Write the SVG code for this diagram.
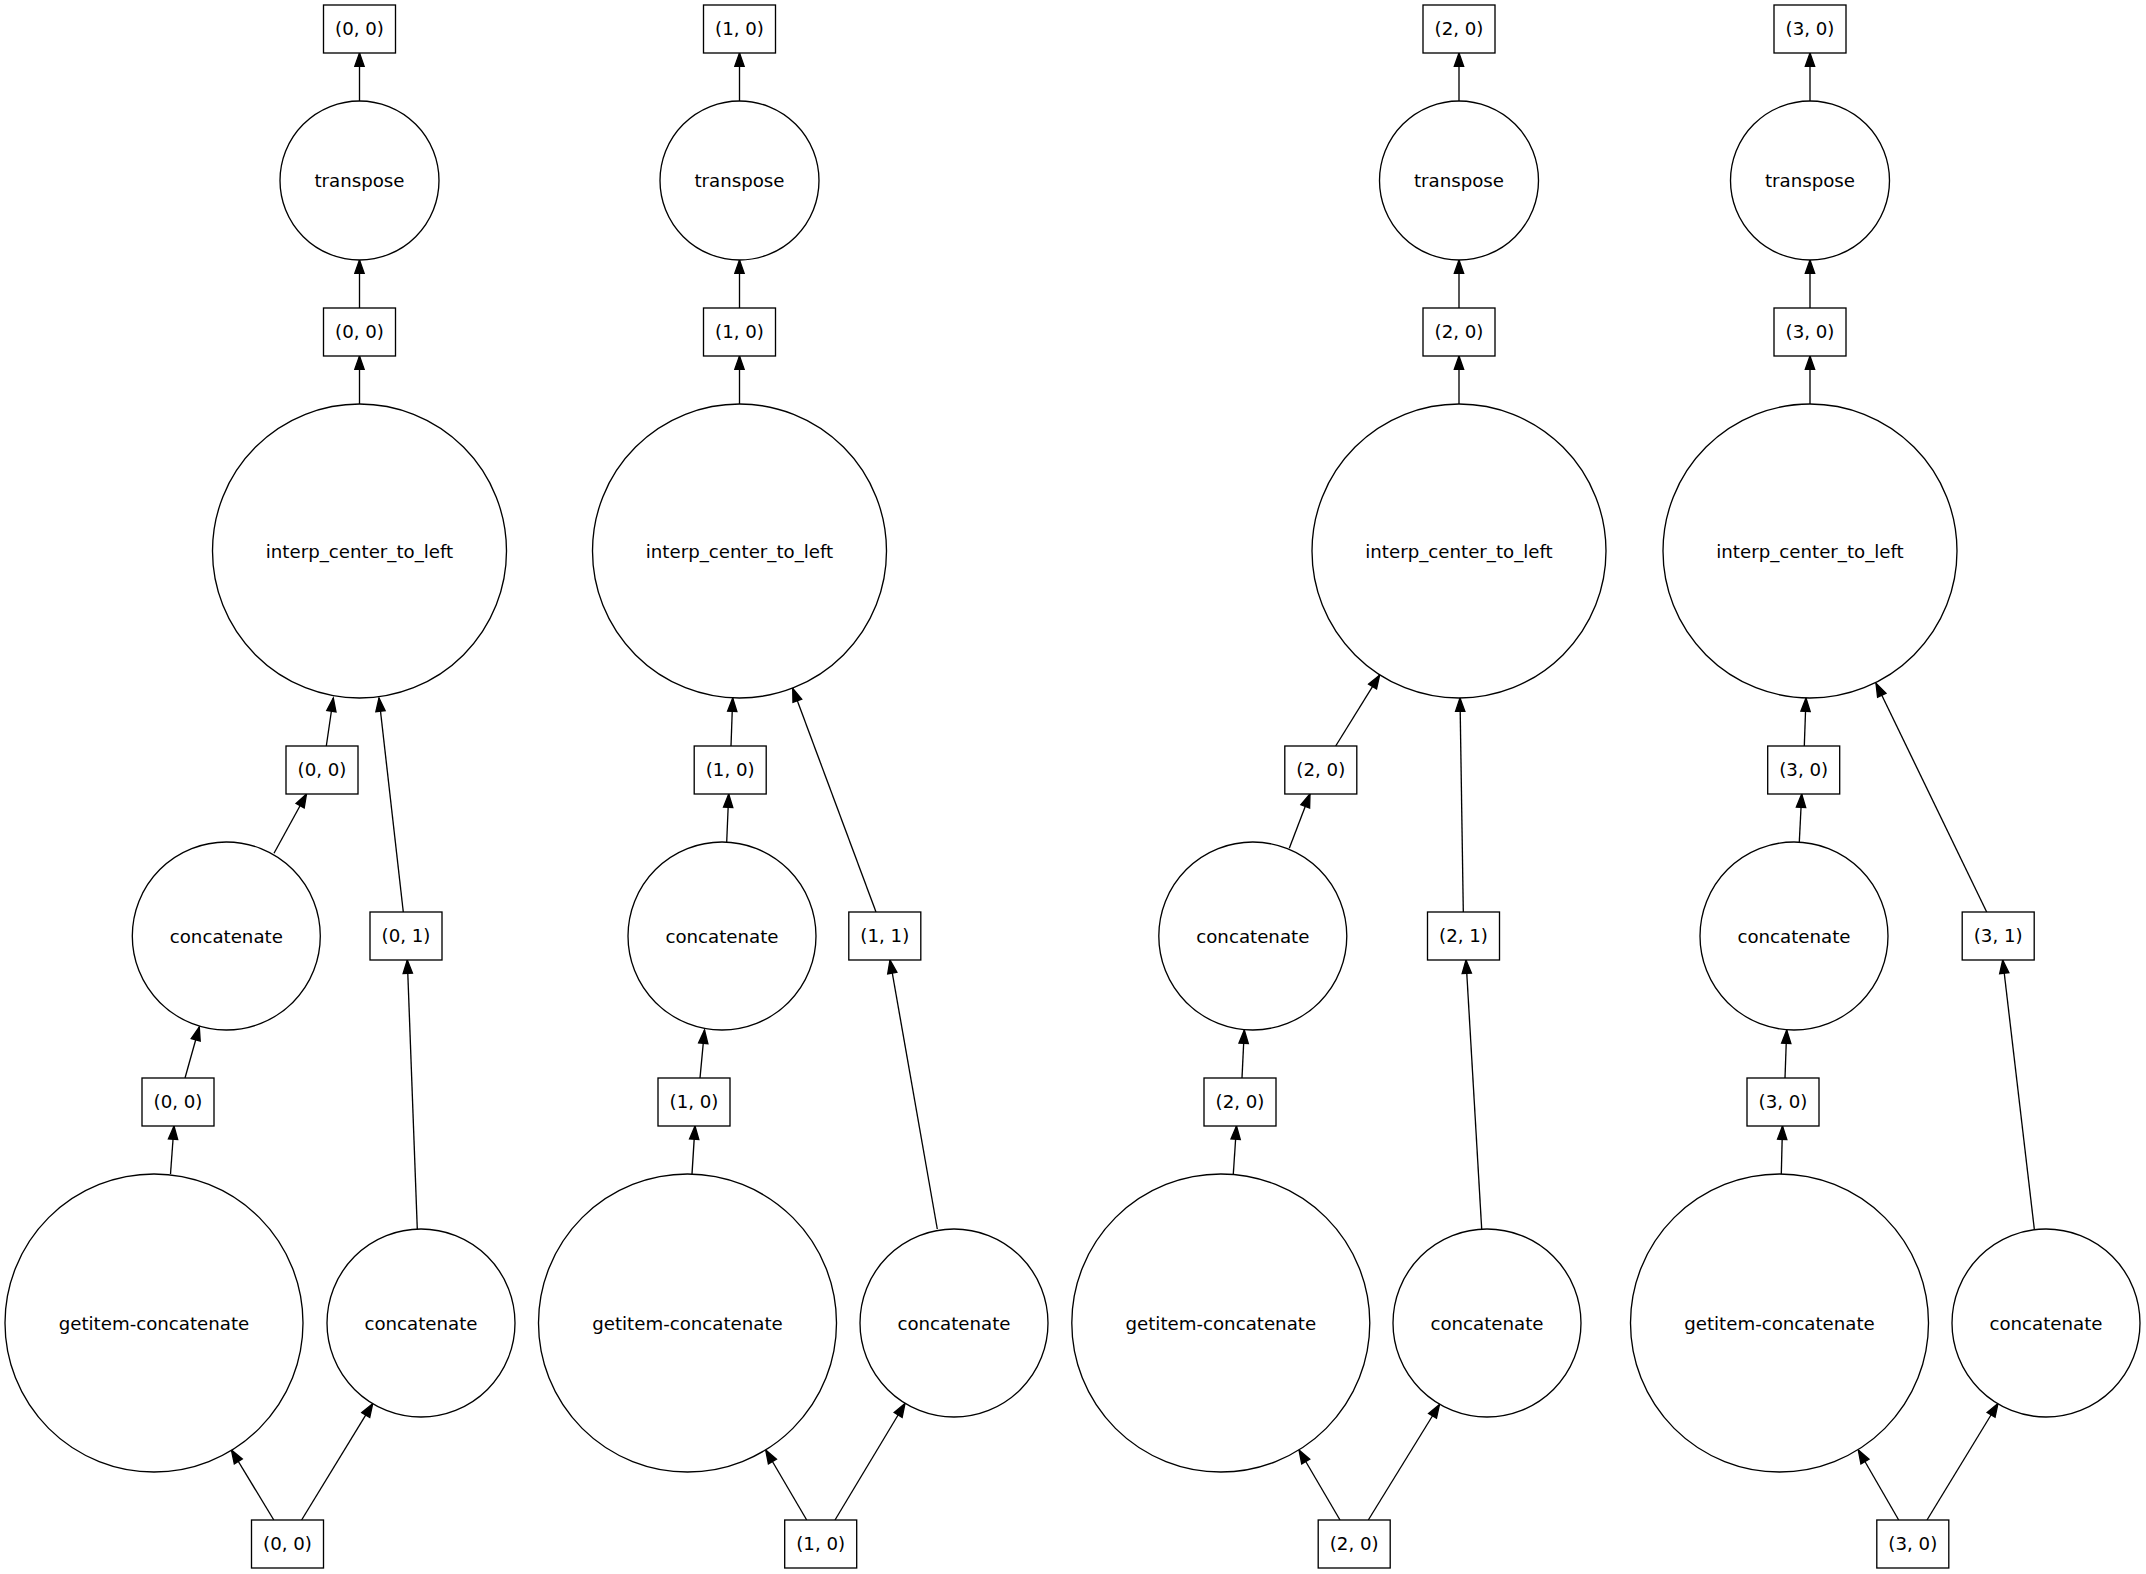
<svg xmlns="http://www.w3.org/2000/svg" width="2146" height="1574" viewBox="0 0 2146 1574">
<style>
.n{fill:#fff;stroke:#000;stroke-width:1.33}
.t{font-family:"DejaVu Sans","Liberation Sans",sans-serif;font-size:18.2px;text-anchor:middle;fill:#000}
.e{stroke:#000;stroke-width:1.33;fill:none;marker-end:url(#ah)}
</style>
<defs>
<marker id="ah" markerUnits="userSpaceOnUse" markerWidth="16" markerHeight="12" refX="13.33" refY="0" orient="auto" overflow="visible">
<path d="M0,-4.67 L13.33,0 L0,4.67 Z" fill="#000" stroke="#000" stroke-width="1.33"/>
</marker>
</defs>
<rect width="2146" height="1574" fill="#fff"/>
<g id="connectors">
<line class="e" x1="359.5" y1="101" x2="359.5" y2="53"/>
<line class="e" x1="359.5" y1="308" x2="359.5" y2="260"/>
<line class="e" x1="359.5" y1="404" x2="359.5" y2="356"/>
<line class="e" x1="326.3" y1="746" x2="333.3" y2="698"/>
<line class="e" x1="403.3" y1="912" x2="379" y2="698"/>
<line class="e" x1="274" y1="853.3" x2="306.5" y2="794"/>
<line class="e" x1="185" y1="1078" x2="199.3" y2="1027"/>
<line class="e" x1="170.5" y1="1174" x2="174" y2="1126"/>
<line class="e" x1="417.3" y1="1229" x2="407.3" y2="960"/>
<line class="e" x1="273.8" y1="1520" x2="231.4" y2="1450"/>
<line class="e" x1="301.6" y1="1520" x2="372.7" y2="1403.7"/>

<line class="e" x1="739.5" y1="101" x2="739.5" y2="53"/>
<line class="e" x1="739.5" y1="308" x2="739.5" y2="260"/>
<line class="e" x1="739.5" y1="404" x2="739.5" y2="356"/>
<line class="e" x1="731" y1="746" x2="732.7" y2="698"/>
<line class="e" x1="876" y1="912" x2="792.7" y2="688.3"/>
<line class="e" x1="726.7" y1="842" x2="728.7" y2="794"/>
<line class="e" x1="700" y1="1078" x2="704.5" y2="1030"/>
<line class="e" x1="692" y1="1174" x2="695" y2="1126"/>
<line class="e" x1="937.3" y1="1229" x2="890" y2="960"/>
<line class="e" x1="806.7" y1="1520" x2="765.7" y2="1450"/>
<line class="e" x1="835" y1="1520" x2="905" y2="1403.5"/>

<line class="e" x1="1459" y1="101" x2="1459" y2="53"/>
<line class="e" x1="1459" y1="308" x2="1459" y2="260"/>
<line class="e" x1="1459" y1="404" x2="1459" y2="356"/>
<line class="e" x1="1335.7" y1="746" x2="1379.6" y2="675.2"/>
<line class="e" x1="1463.3" y1="912" x2="1460" y2="698"/>
<line class="e" x1="1289.3" y1="848.3" x2="1310" y2="794"/>
<line class="e" x1="1242" y1="1078" x2="1244.3" y2="1030"/>
<line class="e" x1="1233.3" y1="1174" x2="1236.5" y2="1126"/>
<line class="e" x1="1481.7" y1="1229" x2="1466" y2="960"/>
<line class="e" x1="1340" y1="1520" x2="1299" y2="1450"/>
<line class="e" x1="1368.3" y1="1520" x2="1439.5" y2="1404.5"/>

<line class="e" x1="1810" y1="101" x2="1810" y2="53"/>
<line class="e" x1="1810" y1="308" x2="1810" y2="260"/>
<line class="e" x1="1810" y1="404" x2="1810" y2="356"/>
<line class="e" x1="1804.3" y1="746" x2="1806" y2="698"/>
<line class="e" x1="1986.7" y1="912" x2="1876" y2="683.3"/>
<line class="e" x1="1799.3" y1="842" x2="1801.7" y2="794"/>
<line class="e" x1="1785" y1="1078" x2="1786.7" y2="1030"/>
<line class="e" x1="1781.3" y1="1174" x2="1782.5" y2="1126"/>
<line class="e" x1="2034.3" y1="1229" x2="2002.7" y2="960"/>
<line class="e" x1="1898.7" y1="1520" x2="1858.3" y2="1450"/>
<line class="e" x1="1927" y1="1520" x2="1998" y2="1403.5"/>
</g>

<!-- column 0 -->
<g id="c0_out"><rect class="n" x="323.5" y="5" width="72" height="48"/><text class="t" x="359.5" y="35">(0, 0)</text></g>
<g id="c0_transpose"><circle class="n" cx="359.5" cy="180.5" r="79.5"/><text class="t" x="359.5" y="187">transpose</text></g>
<g id="c0_mid"><rect class="n" x="323.5" y="308" width="72" height="48"/><text class="t" x="359.5" y="338">(0, 0)</text></g>
<g id="c0_interp"><circle class="n" cx="359.5" cy="551" r="147"/><text class="t" x="359.5" y="557.5">interp_center_to_left</text></g>
<g id="c0_b00"><rect class="n" x="286" y="746" width="72" height="48"/><text class="t" x="322" y="776">(0, 0)</text></g>
<g id="c0_b01"><rect class="n" x="370" y="912" width="72" height="48"/><text class="t" x="406" y="942">(0, 1)</text></g>
<g id="c0_concatL"><circle class="n" cx="226.3" cy="936" r="94"/><text class="t" x="226.3" y="942.5">concatenate</text></g>
<g id="c0_b00low"><rect class="n" x="142" y="1078" width="72" height="48"/><text class="t" x="178" y="1108">(0, 0)</text></g>
<g id="c0_getitem"><circle class="n" cx="154" cy="1323" r="149"/><text class="t" x="154" y="1329.5">getitem-concatenate</text></g>
<g id="c0_concatR"><circle class="n" cx="421" cy="1323" r="94"/><text class="t" x="421" y="1329.5">concatenate</text></g>
<g id="c0_in"><rect class="n" x="251.5" y="1520" width="72" height="48"/><text class="t" x="287.5" y="1550">(0, 0)</text></g>

<!-- column 1 -->
<g id="c1_out"><rect class="n" x="703.5" y="5" width="72" height="48"/><text class="t" x="739.5" y="35">(1, 0)</text></g>
<g id="c1_transpose"><circle class="n" cx="739.5" cy="180.5" r="79.5"/><text class="t" x="739.5" y="187">transpose</text></g>
<g id="c1_mid"><rect class="n" x="703.5" y="308" width="72" height="48"/><text class="t" x="739.5" y="338">(1, 0)</text></g>
<g id="c1_interp"><circle class="n" cx="739.5" cy="551" r="147"/><text class="t" x="739.5" y="557.5">interp_center_to_left</text></g>
<g id="c1_b10"><rect class="n" x="694.2" y="746" width="72" height="48"/><text class="t" x="730.2" y="776">(1, 0)</text></g>
<g id="c1_b11"><rect class="n" x="848.8" y="912" width="72" height="48"/><text class="t" x="884.8" y="942">(1, 1)</text></g>
<g id="c1_concatL"><circle class="n" cx="722" cy="936" r="94"/><text class="t" x="722" y="942.5">concatenate</text></g>
<g id="c1_b10low"><rect class="n" x="658" y="1078" width="72" height="48"/><text class="t" x="694" y="1108">(1, 0)</text></g>
<g id="c1_getitem"><circle class="n" cx="687.5" cy="1323" r="149"/><text class="t" x="687.5" y="1329.5">getitem-concatenate</text></g>
<g id="c1_concatR"><circle class="n" cx="954" cy="1323" r="94"/><text class="t" x="954" y="1329.5">concatenate</text></g>
<g id="c1_in"><rect class="n" x="784.7" y="1520" width="72" height="48"/><text class="t" x="820.7" y="1550">(1, 0)</text></g>

<!-- column 2 -->
<g id="c2_out"><rect class="n" x="1423" y="5" width="72" height="48"/><text class="t" x="1459" y="35">(2, 0)</text></g>
<g id="c2_transpose"><circle class="n" cx="1459" cy="180.5" r="79.5"/><text class="t" x="1459" y="187">transpose</text></g>
<g id="c2_mid"><rect class="n" x="1423" y="308" width="72" height="48"/><text class="t" x="1459" y="338">(2, 0)</text></g>
<g id="c2_interp"><circle class="n" cx="1459" cy="551" r="147"/><text class="t" x="1459" y="557.5">interp_center_to_left</text></g>
<g id="c2_b20"><rect class="n" x="1284.8" y="746" width="72" height="48"/><text class="t" x="1320.8" y="776">(2, 0)</text></g>
<g id="c2_b21"><rect class="n" x="1427.5" y="912" width="72" height="48"/><text class="t" x="1463.5" y="942">(2, 1)</text></g>
<g id="c2_concatL"><circle class="n" cx="1252.8" cy="936" r="94"/><text class="t" x="1252.8" y="942.5">concatenate</text></g>
<g id="c2_b20low"><rect class="n" x="1204" y="1078" width="72" height="48"/><text class="t" x="1240" y="1108">(2, 0)</text></g>
<g id="c2_getitem"><circle class="n" cx="1220.8" cy="1323" r="149"/><text class="t" x="1220.8" y="1329.5">getitem-concatenate</text></g>
<g id="c2_concatR"><circle class="n" cx="1487" cy="1323" r="94"/><text class="t" x="1487" y="1329.5">concatenate</text></g>
<g id="c2_in"><rect class="n" x="1318.2" y="1520" width="72" height="48"/><text class="t" x="1354.2" y="1550">(2, 0)</text></g>

<!-- column 3 -->
<g id="c3_out"><rect class="n" x="1774" y="5" width="72" height="48"/><text class="t" x="1810" y="35">(3, 0)</text></g>
<g id="c3_transpose"><circle class="n" cx="1810" cy="180.5" r="79.5"/><text class="t" x="1810" y="187">transpose</text></g>
<g id="c3_mid"><rect class="n" x="1774" y="308" width="72" height="48"/><text class="t" x="1810" y="338">(3, 0)</text></g>
<g id="c3_interp"><circle class="n" cx="1810" cy="551" r="147"/><text class="t" x="1810" y="557.5">interp_center_to_left</text></g>
<g id="c3_b30"><rect class="n" x="1767.7" y="746" width="72" height="48"/><text class="t" x="1803.7" y="776">(3, 0)</text></g>
<g id="c3_b31"><rect class="n" x="1962.2" y="912" width="72" height="48"/><text class="t" x="1998.2" y="942">(3, 1)</text></g>
<g id="c3_concatL"><circle class="n" cx="1794" cy="936" r="94"/><text class="t" x="1794" y="942.5">concatenate</text></g>
<g id="c3_b30low"><rect class="n" x="1747" y="1078" width="72" height="48"/><text class="t" x="1783" y="1108">(3, 0)</text></g>
<g id="c3_getitem"><circle class="n" cx="1779.5" cy="1323" r="149"/><text class="t" x="1779.5" y="1329.5">getitem-concatenate</text></g>
<g id="c3_concatR"><circle class="n" cx="2046" cy="1323" r="94"/><text class="t" x="2046" y="1329.5">concatenate</text></g>
<g id="c3_in"><rect class="n" x="1876.8" y="1520" width="72" height="48"/><text class="t" x="1912.8" y="1550">(3, 0)</text></g>
</svg>
